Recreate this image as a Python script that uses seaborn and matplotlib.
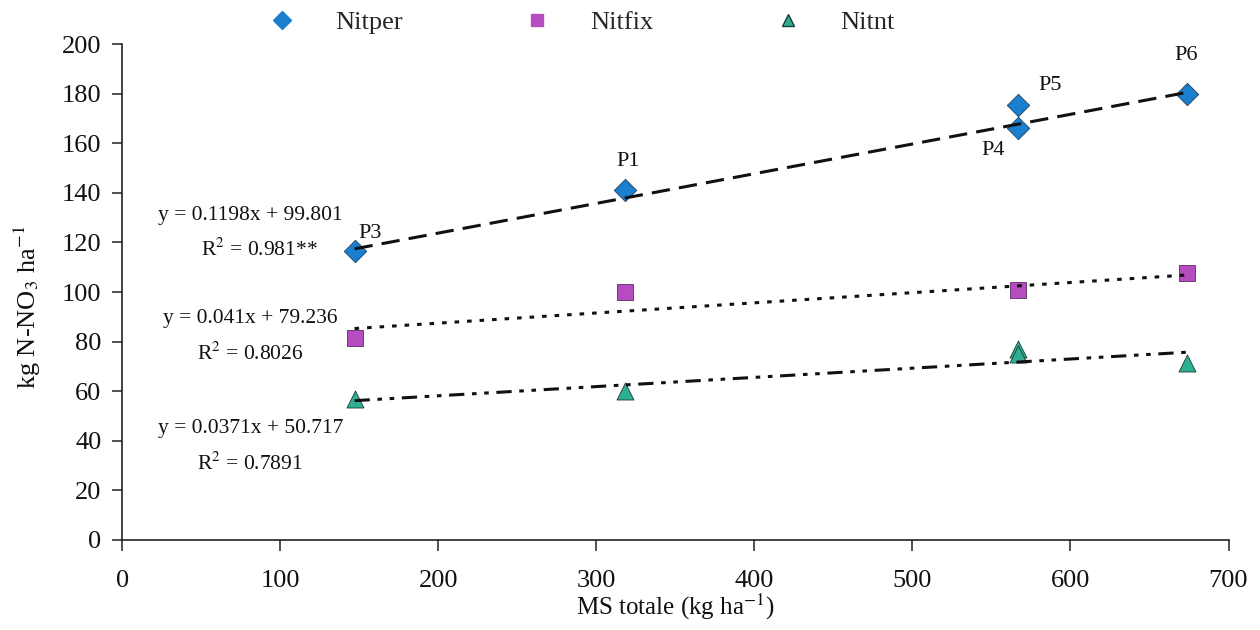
import numpy as np
import pandas as pd
import matplotlib
matplotlib.use("Agg")
import matplotlib.pyplot as plt
import seaborn as sns
from matplotlib.lines import Line2D

# ---- data ----
nitper_x = [147, 318, 567, 567, 674]
nitper_y = [116.5, 141, 166, 175.4, 180]
nitfix_x = [147, 318, 567, 674]
nitfix_y = [81.5, 100, 101, 107.5]
nitnt_x = [147, 318, 567, 567, 674]
nitnt_y = [57, 60, 77, 74.8, 71.5]

point_labels = ["P3", "P1", "P4", "P5", "P6"]

# regression coefficients printed on the chart (slope, intercept)
fit_nitper = (0.1198, 99.801)
fit_nitfix = (0.041, 79.236)
fit_nitnt = (0.0371, 50.717)
fit_range = [147, 676]

eq_texts = ["y = 0.1198x + 99.801", "R$^2$ = 0.981**",
            "y = 0.041x + 79.236", "R$^2$ = 0.8026",
            "y = 0.0371x + 50.717", "R$^2$ = 0.7891"]

series_names = ["Nitper", "Nitfix", "Nitnt"]
colors = {"Nitper": "#1b7fcf", "Nitfix": "#b54cbf", "Nitnt": "#2eae93"}
markers = {"Nitper": "D", "Nitfix": "s", "Nitnt": "^"}

sns.set_theme(style="ticks")
plt.rcParams["font.family"] = ["Liberation Serif", "DejaVu Serif"]
plt.rcParams["mathtext.fontset"] = "stix"

df = pd.concat([
    pd.DataFrame({"x": nitper_x, "y": nitper_y, "s": "Nitper"}),
    pd.DataFrame({"x": nitfix_x, "y": nitfix_y, "s": "Nitfix"}),
    pd.DataFrame({"x": nitnt_x, "y": nitnt_y, "s": "Nitnt"}),
], ignore_index=True)

fits = {"Nitper": fit_nitper, "Nitfix": fit_nitfix, "Nitnt": fit_nitnt}
line_rows = []
for name, (a, b) in fits.items():
    for xv in fit_range:
        line_rows.append({"x": xv, "y": a * xv + b, "s": name})
lines_df = pd.DataFrame(line_rows)

fig = plt.figure(figsize=(12.6, 6.3), dpi=100)
ax = fig.add_axes([0.097, 0.143, 0.878, 0.787])

dash_styles = {"Nitper": (0, (6, 3)),
               "Nitfix": (0, (1.5, 2.6)),
               "Nitnt": (0, (5, 2.5, 1.5, 2.5, 1.5, 2.5))}

edge = {"Nitper": "#1f3d5a", "Nitfix": "#5a2a60", "Nitnt": "#1b3b33"}
for name in series_names:
    sub = df[df.s == name]
    sns.scatterplot(data=sub, x="x", y="y", ax=ax, marker=markers[name],
                    color=colors[name], s=130 if name != "Nitnt" else 150,
                    edgecolor=edge[name], linewidth=0.6, legend=False, zorder=3)

for name in series_names:
    sub = lines_df[lines_df.s == name]
    sns.lineplot(data=sub, x="x", y="y", ax=ax, color="#111111", lw=2.2,
                 legend=False, zorder=4)
    ax.lines[-1].set_linestyle(dash_styles[name])

ax.set_xlim(0, 700)
ax.set_ylim(0, 200)
ax.set_xticks(np.arange(0, 701, 100))
ax.set_yticks(np.arange(0, 201, 20))
sns.despine(ax=ax)
for sp in ["left", "bottom"]:
    ax.spines[sp].set_linewidth(1.2)
    ax.spines[sp].set_color("#222222")
ax.tick_params(axis="x", direction="out", length=8, width=1.1, pad=14, labelsize=19, colors="#222222")
ax.tick_params(axis="y", direction="out", length=7, width=1.1, pad=8, labelsize=19, colors="#222222")
for lab in ax.get_xticklabels() + ax.get_yticklabels():
    lab.set_color("#111111")

ax.set_xlabel("MS totale (kg ha$^{-1}$)", fontsize=18, labelpad=0, color="#111111")
ax.xaxis.set_label_coords(0.5, -0.105)
ax.set_ylabel("kg N-NO$_3$ ha$^{-1}$", fontsize=19, labelpad=6, color="#111111")
ax.yaxis.set_label_coords(-0.072, 0.47)

# point labels
label_pos = [(157, 123.5), (320, 152.5), (551, 157), (587, 183.5), (673, 195.5)]
for t, (px, py) in zip(point_labels, label_pos):
    ax.text(px, py, t, fontsize=16, ha="center", va="center", color="#111111")

eq_pos = [(81, 131), (87, 117), (81, 89.5), (81, 75), (81, 44.8), (81, 30.6)]
for t, (px, py) in zip(eq_texts, eq_pos):
    ax.text(px, py, t, fontsize=15.5, ha="center", va="center", color="#111111")

handles = [Line2D([], [], ls="none", marker=markers[n], color=colors[n],
                  markeredgecolor=colors[n] if n != "Nitnt" else "#1b3b33",
                  markersize=9) for n in series_names]
fig.legend(handles, series_names, loc="center", bbox_to_anchor=(0.462, 0.965),
           ncol=3, frameon=False, fontsize=19, handletextpad=1.5,
           columnspacing=4.6, handlelength=1.0)

fig.savefig("out.png", dpi=100, facecolor="white")
